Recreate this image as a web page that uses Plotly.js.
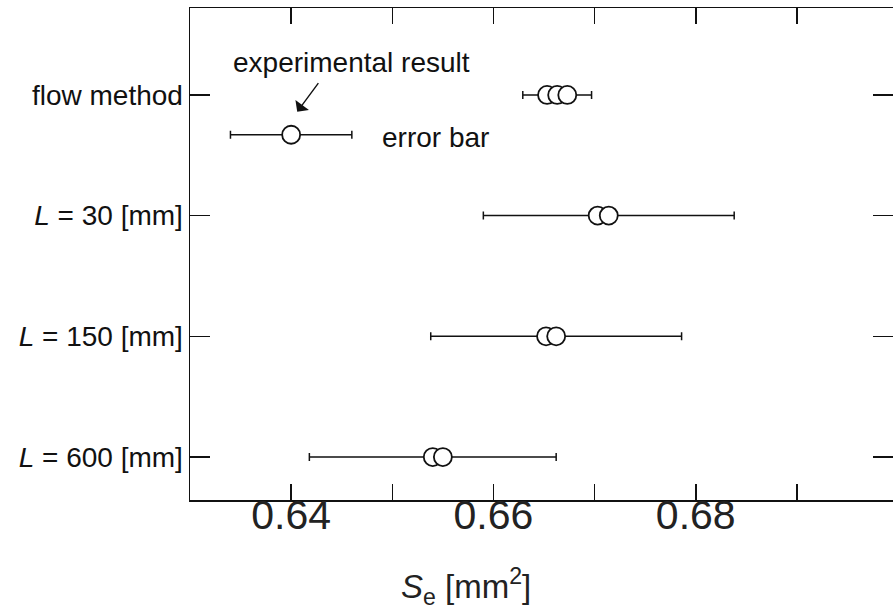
<!DOCTYPE html>
<html>
<head>
<meta charset="utf-8">
<script src="https://cdn.plot.ly/plotly-3.0.1.min.js"></script>
<style>html,body{margin:0;padding:0;background:#fff;}</style>
</head>
<body>
<div id="chart" style="width:893px;height:611px;"></div>
<script>
// Row labels (y axis categories) and their positions
const rowLabels = ['flow method', '<i>L</i> = 30 [mm]', '<i>L</i> = 150 [mm]', '<i>L</i> = 600 [mm]'];
const rowPos = [4, 3, 2, 1];

// Measured S_e values per row [mm^2]
const flowValues = [0.6653, 0.6663, 0.6673];
const flowErr = [0, 0.0034, 0];
const l30Values = [0.6703, 0.6714];
const l30Err = [0, 0.0124];
const l150Values = [0.6652, 0.6662];
const l150Err = [0, 0.0124];
const l600Values = [0.6540, 0.6550];
const l600Err = [0.0122, 0];

// Legend example point
const legendValue = [0.6400];
const legendErr = [0.0060];
const legendPos = [3.67];

// X ticks (labelled every 0.02, ticks every 0.01)
const xTickVals = [0.64, 0.66, 0.68];
const xTickText = ['0.64', '0.66', '0.68'];

const groups = [flowValues, l30Values, l150Values, l600Values];
const groupErr = [flowErr, l30Err, l150Err, l600Err];
const xs = [], ys = [], es = [];
groups.forEach((vals, gi) => {
  vals.forEach((v, i) => {
    xs.push(v); ys.push(rowPos[gi]); es.push(groupErr[gi][i]);
  });
});

const markerStyle = {symbol: 'circle', size: 18, color: '#ffffff', line: {color: '#111', width: 1.8}};
const errStyle = {type: 'data', symmetric: true, color: '#111', thickness: 1.5, width: 4};

const traces = [
  {
    type: 'scatter', mode: 'markers', x: xs, y: ys,
    error_x: Object.assign({array: es}, errStyle),
    marker: markerStyle, showlegend: false, hoverinfo: 'x'
  },
  {
    type: 'scatter', mode: 'markers', x: legendValue, y: legendPos,
    error_x: Object.assign({array: legendErr}, errStyle),
    marker: markerStyle, showlegend: false, hoverinfo: 'x'
  }
];

const font = 'Liberation Sans, Arial, Helvetica, sans-serif';

const layout = {
  width: 893, height: 611,
  margin: {l: 190, r: 0, t: 8, b: 111},
  paper_bgcolor: '#fff', plot_bgcolor: '#fff',
  font: {family: font, color: '#111'},
  xaxis: {
    range: [0.63, 0.6995],
    tickvals: xTickVals, ticktext: xTickText,
    ticks: 'inside', ticklen: 16, tickwidth: 1.5, tickcolor: '#111',
    minor: {ticks: 'inside', tick0: 0.63, dtick: 0.01, ticklen: 16, tickwidth: 1.5, tickcolor: '#111', showgrid: false},
    showline: true, linecolor: '#111', linewidth: 1.5, mirror: 'ticks',
    showgrid: false, zeroline: false,
    ticklabelstandoff: -22,
    tickfont: {size: 41, family: font, color: '#222'}
  },
  yaxis: {
    range: [0.644, 4.72],
    tickvals: rowPos, ticktext: rowLabels,
    ticks: 'inside', ticklen: 20, tickwidth: 1.5, tickcolor: '#111',
    showline: true, linecolor: '#111', linewidth: 1.5, mirror: 'ticks',
    showgrid: false, zeroline: false,
    tickfont: {size: 28, family: font, color: '#111'}
  },
  annotations: [
    {
      x: (466 - 190) / 703, y: 0, xref: 'paper', yref: 'paper', yanchor: 'middle', yshift: -86,
      text: '<i>S</i><sub>e</sub> [mm<sup>2</sup>]',
      showarrow: false, font: {size: 33, family: font, color: '#222'}
    },
    {
      x: 0.6341, y: 4.27, xref: 'x', yref: 'y', text: 'experimental result', xanchor: 'left',
      showarrow: false, font: {size: 28, family: font, color: '#111'}
    },
    {
      x: 0.6488, y: 3.65, xref: 'x', yref: 'y', text: 'error bar', xanchor: 'left',
      showarrow: false, font: {size: 28, family: font, color: '#111'}
    },
    {
      x: 0.6406, y: 3.86, xref: 'x', yref: 'y', ax: 0.6428, ay: 4.11, axref: 'x', ayref: 'y',
      text: '', showarrow: true, arrowhead: 1, arrowsize: 2, arrowwidth: 1.4, arrowcolor: '#111'
    }
  ]
};

Plotly.newPlot('chart', traces, layout, {displayModeBar: false, staticPlot: true});
</script>
</body>
</html>
